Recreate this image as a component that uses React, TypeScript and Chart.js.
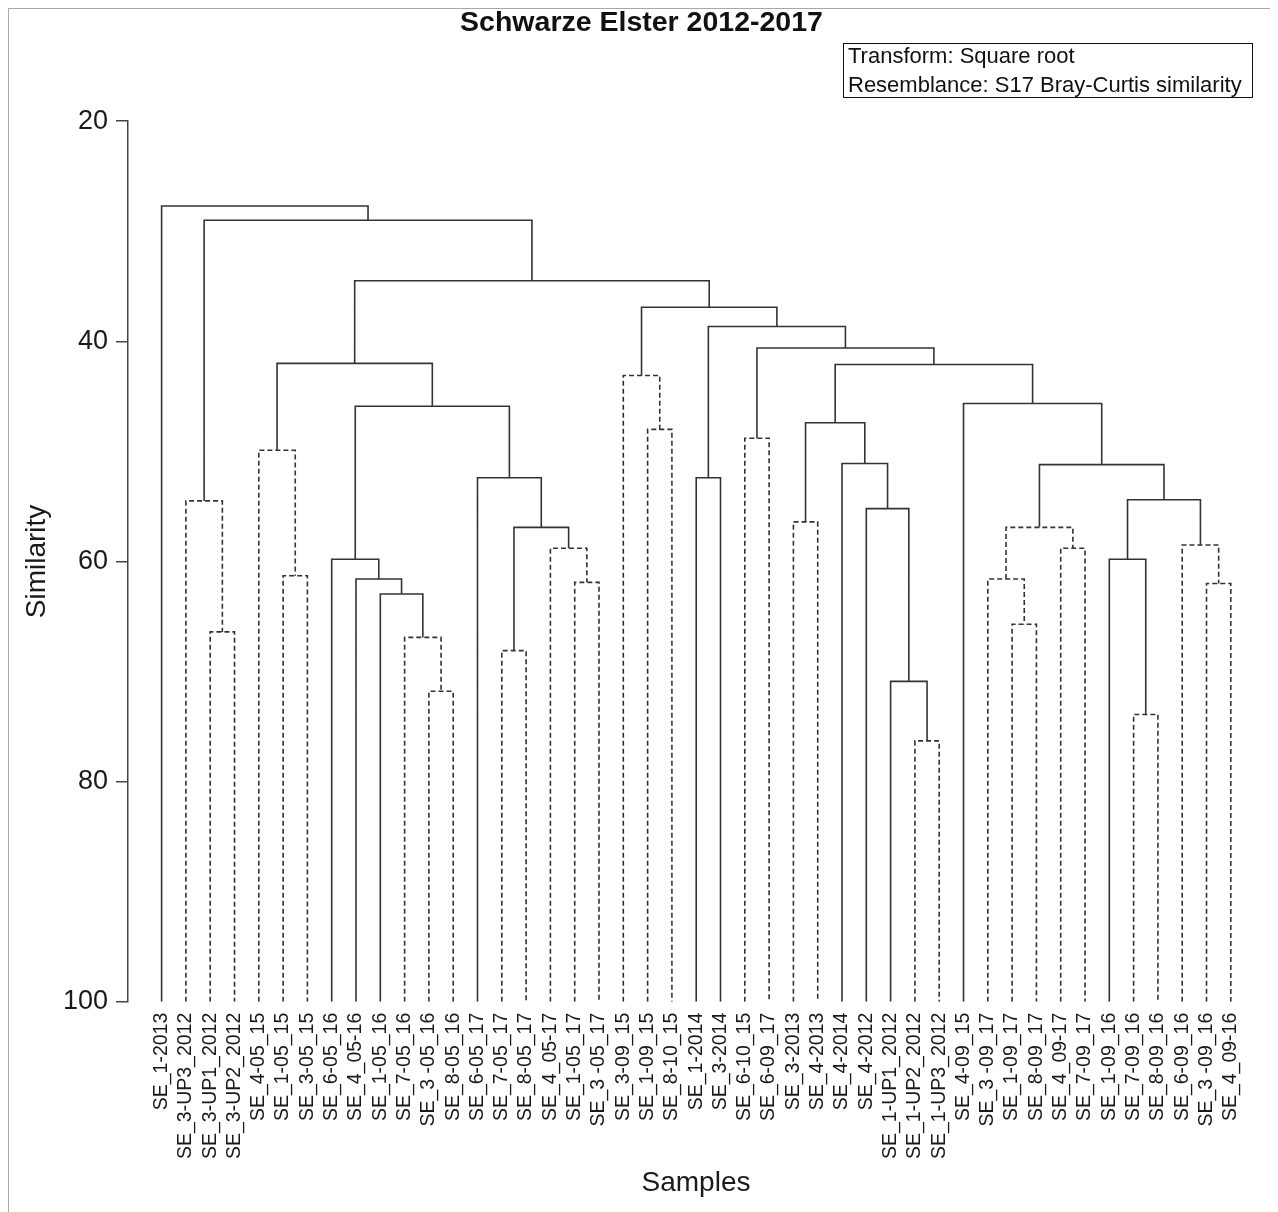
import React, { useEffect, useRef } from 'react';
import { Chart, registerables } from 'chart.js';

Chart.register(...registerables);

const FONT = '"Liberation Sans", Arial, Helvetica, sans-serif';

const chartTitle = 'Schwarze Elster 2012-2017';
const xTitle = 'Samples';
const yTitle = 'Similarity';
const boxLines = ['Transform: Square root', 'Resemblance: S17 Bray-Curtis similarity'];

// Leaves, in dendrogram order
const sampleLabels = [
  'SE_1-2013', 'SE_3-UP3_2012', 'SE_3-UP1_2012', 'SE_3-UP2_2012',
  'SE_4-05_15', 'SE_1-05_15', 'SE_3-05_15',
  'SE_6-05_16', 'SE_4_05-16', 'SE_1-05_16', 'SE_7-05_16', 'SE_3 -05_16', 'SE_8-05_16',
  'SE_6-05_17', 'SE_7-05_17', 'SE_8-05_17', 'SE_4_05-17', 'SE_1-05_17', 'SE_3 -05_17',
  'SE_3-09_15', 'SE_1-09_15', 'SE_8-10_15', 'SE_1-2014', 'SE_3-2014',
  'SE_6-10_15', 'SE_6-09_17', 'SE_3-2013', 'SE_4-2013', 'SE_4-2014', 'SE_4-2012',
  'SE_1-UP1_2012', 'SE_1-UP2_2012', 'SE_1-UP3_2012',
  'SE_4-09_15', 'SE_3 -09_17', 'SE_1-09_17', 'SE_8-09_17', 'SE_4_09-17', 'SE_7-09_17',
  'SE_1-09_16', 'SE_7-09_16', 'SE_8-09_16', 'SE_6-09_16', 'SE_3 -09_16', 'SE_4_09-16',
];

// Merges (bottom-up). A child >= 0 is a leaf index; a child < 0 is merge number (-child - 1).
const mergeLeft = [
  2, 1, 5, 4, 11, 10, 9, 8, 7, 14, 17, 16, -10, 13, -9, -4,
  20, 19, 22, 24, 26, 31, 30, 29, 28, -21,
  35, 34, 37, -28, 40, 39, 43, 42, -32, -30, 33, -26, -20, -19, -18, -16, -2, 0,
];
const mergeRight = [
  3, -1, 6, -3, 12, -5, -6, -7, -8, 15, 18, -11, -12, -13, -14, -15,
  21, -17, 23, 25, 27, 32, -22, -23, -24, -25,
  36, -27, 38, -29, 41, -31, 44, -33, -34, -35, -36, -37, -38, -39, -40, -41, -42, -43,
];
const mergeHeight = [
  66.4, 54.5, 61.3, 49.9, 71.8, 66.9, 62.96, 61.6, 59.8, 68.1, 61.9, 58.8, 56.9, 52.4, 45.9, 42.0,
  48.0, 43.1, 52.4, 48.8, 56.4, 76.3, 70.9, 55.2, 51.1, 47.4,
  65.7, 61.6, 58.8, 56.9, 73.9, 59.8, 62.0, 58.5, 54.4, 51.2, 45.65, 42.1, 40.6, 38.65, 36.9, 34.5, 29.0, 27.7,
];
const mergeDashed = [
  true, true, true, true, true, true, false, false, false, true, true, true, false, false, false, false,
  true, true, false, true, true, true, false, false, false, false,
  true, true, true, true, true, false, true, true, false, false, false, false, false, false, false, false, false, false,
];

const yTickValues = [20, 40, 60, 80, 100];
const yMin = 20;
const yMax = 100;

type Pt = { x: number | null; y: number | null };

function buildSegments() {
  const mergeX: number[] = [];
  const nodeX = (ref: number) => (ref >= 0 ? ref : mergeX[-ref - 1]);
  const nodeH = (ref: number) => (ref >= 0 ? yMax : mergeHeight[-ref - 1]);
  const solid: Pt[] = [];
  const dashed: Pt[] = [];
  mergeLeft.forEach((l, k) => {
    const r = mergeRight[k];
    const h = mergeHeight[k];
    const xl = nodeX(l);
    const xr = nodeX(r);
    mergeX[k] = (xl + xr) / 2;
    const target = mergeDashed[k] ? dashed : solid;
    target.push(
      { x: xl, y: nodeH(l) },
      { x: xl, y: h },
      { x: xr, y: h },
      { x: xr, y: nodeH(r) },
      { x: null, y: null },
    );
  });
  return { solid, dashed };
}

const CANVAS_W = 1262;
const CANVAS_H = 1210;

export default function App() {
  const ref = useRef<HTMLCanvasElement | null>(null);

  useEffect(() => {
    if (!ref.current) return;
    const { solid, dashed } = buildSegments();
    const lineColor = '#333333';
    const chart = new Chart(ref.current, {
      type: 'line',
      data: {
        datasets: [
          {
            label: 'solid',
            data: solid as any,
            borderColor: lineColor,
            borderWidth: 1.6,
            pointRadius: 0,
            tension: 0,
            fill: false,
            spanGaps: false,
          },
          {
            label: 'dashed',
            data: dashed as any,
            borderColor: lineColor,
            borderWidth: 1.6,
            borderDash: [5, 3],
            pointRadius: 0,
            tension: 0,
            fill: false,
            spanGaps: false,
          },
        ],
      },
      options: {
        animation: false,
        responsive: false,
        devicePixelRatio: 1,
        layout: { padding: { left: 10, right: 7, top: 0, bottom: 0 } },
        plugins: {
          legend: { display: false },
          tooltip: { enabled: false },
          title: {
            display: true,
            text: chartTitle,
            color: '#111',
            font: { family: FONT, size: 28.5, weight: 'bold', lineHeight: 1 },
            padding: { top: 0, bottom: 83.7 },
          },
        },
        scales: {
          x: {
            type: 'linear',
            min: -1.383,
            max: 45.366,
            afterFit: (s: any) => {
              s.height = 217.3;
              s.paddingLeft = 0;
              s.paddingRight = 0;
            },
            grid: { display: false, drawTicks: false, tickLength: 0 },
            border: { display: false },
            ticks: {
              stepSize: 1,
              autoSkip: false,
              minRotation: 90,
              maxRotation: 90,
              padding: 11,
              color: '#1a1a1a',
              font: { family: FONT, size: 19.5 },
              callback: (v: any) => {
                const n = Number(v);
                return Number.isInteger(n) && n >= 0 && n < sampleLabels.length ? sampleLabels[n] : '';
              },
            },
            title: {
              display: true,
              text: xTitle,
              color: '#1a1a1a',
              font: { family: FONT, size: 28, lineHeight: 1.2 },
              padding: { top: 0, bottom: 19.2 },
            },
          },
          y: {
            type: 'linear',
            reverse: true,
            min: yMin,
            max: yMax,
            afterFit: (s: any) => {
              s.width = 109;
            },
            afterBuildTicks: (s: any) => {
              s.ticks = yTickValues.map((v) => ({ value: v }));
            },
            grid: { drawOnChartArea: false, drawTicks: true, tickLength: 12, color: '#444', lineWidth: 1.5 },
            border: { display: true, color: '#444', width: 1.5 },
            ticks: {
              padding: 8,
              color: '#1a1a1a',
              font: { family: FONT, size: 27 },
            },
            title: {
              display: true,
              text: yTitle,
              color: '#1a1a1a',
              font: { family: FONT, size: 28, lineHeight: 1.2 },
              padding: { top: 1.2, bottom: 0 },
            },
          },
        },
      } as any,
    });
    return () => chart.destroy();
  }, []);

  return (
    <div
      style={{
        position: 'relative',
        width: CANVAS_W,
        height: CANVAS_H,
        border: '1px solid #a8a8a8',
        background: '#fff',
      }}
    >
      <canvas ref={ref} width={CANVAS_W} height={CANVAS_H} style={{ display: 'block' }} />
      <div
        style={{
          position: 'absolute',
          left: 834,
          top: 34,
          width: 404,
          height: 53,
          border: '1px solid #111',
          paddingLeft: 4,
          fontFamily: FONT,
          fontSize: 22,
          lineHeight: '29px',
          color: '#111',
          whiteSpace: 'nowrap',
          background: '#fff',
        }}
      >
        <div style={{ position: 'relative', top: -3 }}>
          {boxLines.map((t) => (
            <div key={t}>{t}</div>
          ))}
        </div>
      </div>
    </div>
  );
}
